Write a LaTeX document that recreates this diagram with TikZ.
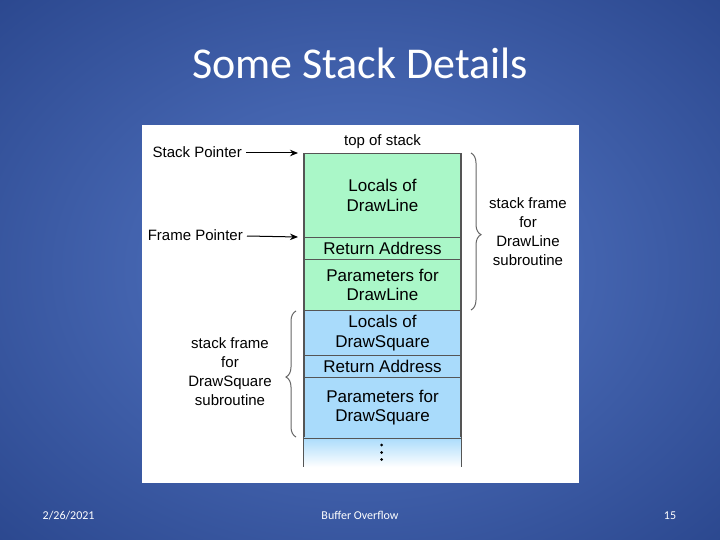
\documentclass[tikz,border=0pt]{standalone}
\usepackage{fontspec}
\setmainfont{Liberation Sans}
\newfontfamily\carl{Carlito}
\usetikzlibrary{arrows.meta,decorations.pathreplacing}
\definecolor{bgc}{HTML}{5277C0}
\definecolor{bgm}{HTML}{4363AE}
\definecolor{bge}{HTML}{1A3478}
\definecolor{stackgreen}{HTML}{AAF7C8}
\definecolor{stackblue}{HTML}{A9DBFB}
\definecolor{cellline}{HTML}{555555}
\definecolor{bracegray}{HTML}{666666}
\pgfdeclareradialshading{slidebg}{\pgfpoint{0bp}{0bp}}{color(0bp)=(bgc); color(16bp)=(bgm); color(50bp)=(bge)}
\tikzset{
  cell/.style={draw=cellline, line width=1.1pt, minimum width=157pt, inner sep=0pt,
    anchor=north, align=center, font=\fontsize{17}{19.7}\selectfont, text=black},
  lbl/.style={font=\fontsize{15}{19}\selectfont, text=black, align=center, inner sep=2pt},
  ptr/.style={-{Stealth[length=8pt,width=6.5pt]}, line width=1pt, black},
  brc/.style={decorate, decoration={brace, amplitude=10pt}, draw=bracegray, line width=1pt},
  foot/.style={font=\carl\fontsize{12}{14}\selectfont, text=white, inner sep=0pt}
}
\begin{document}
\begin{tikzpicture}[x=1pt,y=-1pt]
\useasboundingbox (0,0) rectangle (720,540);
\fill[bge!80!black] (0,0) rectangle (720,540);
\shade[shading=slidebg] (0,0) rectangle (720,540);
\node[font=\carl\fontsize{44}{50}\selectfont, text=white, anchor=base, inner sep=0pt] (title) at (360,79) {Some Stack Details};
\node[fill=white, inner sep=0pt, minimum width=437pt, minimum height=358pt, anchor=north west] (panel) at (142,125) {};
% stack cells
\node[cell, fill=stackgreen, minimum height=84pt] (locL) at (382.5,153) {Locals of\\DrawLine};
\node[cell, fill=stackgreen, minimum height=22pt] (retL) at (382.5,237) {Return Address};
\node[cell, fill=stackgreen, minimum height=51pt] (parL) at (382.5,259) {Parameters for\\DrawLine};
\node[cell, fill=stackblue, minimum height=45pt] (locS) at (382.5,310) {Locals of\\DrawSquare};
\node[cell, fill=stackblue, minimum height=22pt] (retS) at (382.5,355) {Return Address};
\node[cell, fill=stackblue, minimum height=60pt] (parS) at (382.5,377) {Parameters for\\DrawSquare};
\node[inner sep=0pt, minimum width=157pt, minimum height=30pt, anchor=north, top color=stackblue, bottom color=white] (fade) at (382.5,437) {};
\draw[cellline, line width=1.1pt] (fade.north west) -- (fade.south west);
\draw[cellline, line width=1.1pt] (fade.north east) -- (fade.south east);
\draw[cellline, line width=1.1pt] (parS.south west) -- (parS.south east);
\fill[black] (381.7,445) circle (1.5pt) (381.7,452.5) circle (1.5pt) (381.7,459.5) circle (1.5pt);
% labels
\node[lbl, anchor=south] (tos) at (382.5,151) {top of stack};
\node[lbl, anchor=east] (sp) at (244,152) {Stack Pointer};
\node[lbl, anchor=east] (fp) at (245,235) {Frame Pointer};
\coordinate (spTip) at (298,153);
\coordinate (fpTip) at (298,237);
\draw[ptr] (sp.east) ++(2,1) -- (spTip);
\draw[ptr] (fp.east) ++(2,1) -- (fpTip);
% braces
\coordinate (rb1) at (471,153);
\coordinate (rb2) at (471,310);
\draw[brc, decoration={aspect=0.52}] (rb1) -- (rb2);
\node[lbl] (rframe) at (528,231.5) {stack frame\\for\\DrawLine\\subroutine};
\coordinate (lb1) at (296,437);
\coordinate (lb2) at (296,311);
\draw[brc, decoration={aspect=0.476}] (lb1) -- (lb2);
\node[lbl] (lframe) at (230,372) {stack frame\\for\\DrawSquare\\subroutine};
% footer
\node[foot, anchor=base west] (date) at (42.5,519) {2/26/2021};
\node[foot, anchor=base] (topic) at (360,519) {Buffer Overflow};
\node[foot, anchor=base] (page) at (670,519) {15};
\end{tikzpicture}
\end{document}
